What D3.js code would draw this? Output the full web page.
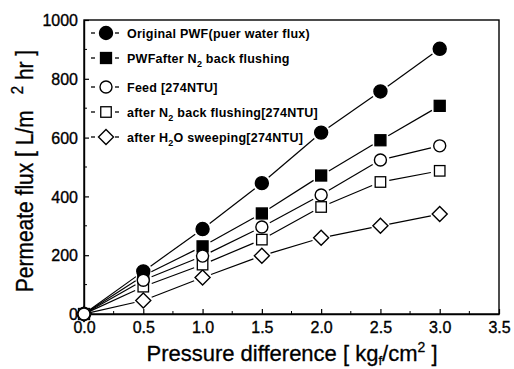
<!DOCTYPE html>
<html><head><meta charset="utf-8">
<script src="https://cdn.jsdelivr.net/npm/d3@7"></script>
<style>body{margin:0;background:#fff}svg{display:block}text{font-family:"Liberation Sans",Arial,sans-serif;fill:#000}</style>
</head><body>
<svg id="c" width="514" height="369"></svg>
<script>
const pressure = [0, 0.5, 1.0, 1.5, 2.0, 2.5, 3.0];
const originalPWF = [0, 145, 289, 445, 617, 757, 902];
const pwfAfterN2 = [0, 130, 230, 342, 471, 591, 708];
const feed274 = [0, 115, 197, 296, 405, 524, 572];
const afterN2_274 = [0, 93, 168, 253, 364, 449, 487];
const afterH2O_274 = [0, 46, 124, 198, 259, 300, 340];
const xTicks = [0, 0.5, 1.0, 1.5, 2.0, 2.5, 3.0, 3.5];
const yTicks = [0, 200, 400, 600, 800, 1000];

const series = [
  {name: "orig", vals: originalPWF, sym: "circle", fill: true},
  {name: "pwfn2", vals: pwfAfterN2, sym: "square", fill: true},
  {name: "feed", vals: feed274, sym: "circle", fill: false},
  {name: "n2", vals: afterN2_274, sym: "square", fill: false},
  {name: "h2o", vals: afterH2O_274, sym: "diamond", fill: false}
];
const drawOrder = [1, 0, 4, 3, 2];

const L = 84, R = 499, T = 20, B = 314;
const x = d3.scaleLinear().domain([0, 3.5]).range([L, R]);
const y = d3.scaleLinear().domain([0, 1000]).range([B, T]);
const svg = d3.select("#c");

// frame
svg.append("rect").attr("x", L).attr("y", T).attr("width", R - L).attr("height", B - T)
  .attr("fill", "none").attr("stroke", "#000").attr("stroke-width", 1.4);

// axes
const xa = svg.append("g").attr("transform", `translate(0,${B})`)
  .call(d3.axisBottom(x).tickValues(xTicks).tickFormat(d3.format(".1f")).tickSizeInner(-5).tickSizeOuter(0));
const ya = svg.append("g").attr("transform", `translate(${L},0)`)
  .call(d3.axisLeft(y).tickValues(yTicks).tickFormat(d3.format("d")).tickSizeInner(-5).tickSizeOuter(0));
[xa, ya].forEach(g => {
  g.select(".domain").attr("stroke-width", 1.4);
  g.selectAll(".tick line").attr("stroke-width", 1.2);
  g.selectAll("text").style("font-size", "16px").style("font-family", "'Liberation Sans',Arial,sans-serif")
    .attr("stroke", "#000").attr("stroke-width", 0.35);
});
xa.selectAll("text").attr("dy", "0.95em").attr("y", 4);
ya.selectAll("text").attr("x", -6).attr("dy", "0.35em");
// minor ticks
const yMinor = d3.range(100, 1000, 200);
svg.append("g").selectAll("line").data(yMinor).join("line")
  .attr("x1", L).attr("x2", L + 3).attr("y1", d => y(d)).attr("y2", d => y(d)).attr("stroke", "#000");
const xMinor = d3.range(0.25, 3.5, 0.5);
svg.append("g").selectAll("line").data(xMinor).join("line")
  .attr("x1", d => x(d)).attr("x2", d => x(d)).attr("y1", B).attr("y2", B - 3).attr("stroke", "#000");

// symbol drawing
function drawSym(g, sym, fill, cx, cy) {
  const f = fill ? "#000" : "#fff";
  if (sym === "circle") {
    g.append("circle").attr("cx", cx).attr("cy", cy).attr("r", fill ? 6.5 : 6)
      .attr("fill", f).attr("stroke", "#000").attr("stroke-width", 1.4);
  } else if (sym === "square") {
    const s = fill ? 11 : 10.5;
    g.append("rect").attr("x", cx - s / 2).attr("y", cy - s / 2).attr("width", s).attr("height", s)
      .attr("fill", f).attr("stroke", "#000").attr("stroke-width", 1.3);
  } else {
    const s = 7.5;
    g.append("path").attr("d", `M${cx},${cy - s}L${cx + s},${cy}L${cx},${cy + s}L${cx - s},${cy}Z`)
      .attr("fill", f).attr("stroke", "#000").attr("stroke-width", 1.4);
  }
}

// lines with gaps
const gap = 9;
series.forEach(s => {
  const g = svg.append("g");
  for (let i = 0; i < pressure.length - 1; i++) {
    const x1 = x(pressure[i]), y1 = y(s.vals[i]), x2 = x(pressure[i + 1]), y2 = y(s.vals[i + 1]);
    const dx = x2 - x1, dy = y2 - y1, len = Math.hypot(dx, dy);
    const ux = dx / len, uy = dy / len;
    const g0 = i === 0 ? 5 : gap;
    g.append("line").attr("x1", x1 + ux * g0).attr("y1", y1 + uy * g0)
      .attr("x2", x2 - ux * gap).attr("y2", y2 - uy * gap)
      .attr("stroke", "#000").attr("stroke-width", 1.2);
  }
});
drawOrder.forEach(k => {
  const s = series[k];
  const g = svg.append("g");
  pressure.forEach((p, i) => drawSym(g, s.sym, s.fill, x(p), y(s.vals[i])));
});

// legend
const legendY = [33, 58, 87, 112, 137];
const legendTexts = [
  [["Original PWF(puer water flux)", 0]],
  [["PWFafter N", 0], ["2", 1], [" back flushing", 0]],
  [["Feed [274NTU]", 0]],
  [["after N", 0], ["2", 1], [" back flushing[274NTU]", 0]],
  [["after H", 0], ["2", 1], ["O sweeping[274NTU]", 0]]
];
series.forEach((s, i) => {
  const g = svg.append("g");
  const yy = legendY[i];
  g.append("line").attr("x1", 91).attr("x2", 95).attr("y1", yy).attr("y2", yy).attr("stroke", "#000").attr("stroke-width", 1.3);
  g.append("line").attr("x1", 115).attr("x2", 119).attr("y1", yy).attr("y2", yy).attr("stroke", "#000").attr("stroke-width", 1.3);
  drawSym(g, s.sym, s.fill, 106, yy);
  const t = g.append("text").attr("x", 127).attr("y", yy + 4.5)
    .style("font-size", "12.5px").style("letter-spacing", "0.25px").style("font-weight", "600");
  legendTexts[i].forEach(([str, sub], j) => {
    const ts = t.append("tspan").text(str);
    if (sub) ts.attr("dy", 4).style("font-size", "9px");
    else if (j > 0) ts.attr("dy", -4);
  });
});

// axis titles
const xt = svg.append("text").attr("x", 292).attr("y", 361).attr("text-anchor", "middle")
  .style("font-size", "22px").attr("stroke", "#000").attr("stroke-width", 0.3);
xt.append("tspan").text("Pressure difference [ kg");
xt.append("tspan").text("f").attr("dy", 4).style("font-size", "13px");
xt.append("tspan").text("/cm").attr("dy", -4);
xt.append("tspan").text("2").attr("dy", -9).style("font-size", "14px");
xt.append("tspan").text(" ]").attr("dy", 9);

const yt = svg.append("text").attr("transform", `translate(33,171) rotate(-90) scale(1,1.15)`)
  .attr("text-anchor", "middle").style("font-size", "21px").attr("stroke", "#000").attr("stroke-width", 0.3);
yt.append("tspan").text("Permeate flux [ L/m");
yt.append("tspan").text("2").attr("dx", 16).attr("dy", -9).style("font-size", "15px");
yt.append("tspan").text(" hr ]").attr("dy", 9);
</script>
</body></html>
